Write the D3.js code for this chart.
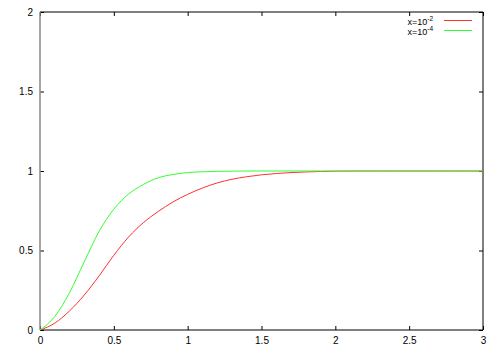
<!DOCTYPE html>
<html>
<head>
<meta charset="utf-8">
<script src="https://cdn.jsdelivr.net/npm/d3@7"></script>
<style>
  body { margin: 0; background: #fff; }
  svg { font-family: "Liberation Sans", Arial, sans-serif; }
</style>
</head>
<body>
<div id="chart"></div>
<script>
// values, step 0.1 from 0 to 3
const xValues = d3.range(0, 31).map(i => i / 10);
const seriesA = [0, 0.043, 0.12, 0.22, 0.34, 0.47, 0.585, 0.675, 0.745, 0.805, 0.853,
  0.893, 0.925, 0.948, 0.964, 0.976, 0.984, 0.99, 0.994, 0.997, 0.999,
  1, 1, 1, 1, 1, 1, 1, 1, 1, 1];
const seriesB = [0, 0.085, 0.235, 0.43, 0.62, 0.76, 0.855, 0.915, 0.957, 0.978, 0.99,
  0.995, 0.998, 0.999, 1, 1, 1, 1, 1, 1, 1,
  1, 1, 1, 1, 1, 1, 1, 1, 1, 1];
const seriesNames = [["x=10", "-2"], ["x=10", "-4"]];
const seriesColors = ["#ff3030", "#30ff30"];
const xTicks = [0, 0.5, 1, 1.5, 2, 2.5, 3];
const yTicks = [0, 0.5, 1, 1.5, 2];

const W = 500, H = 350;
const plotLeft = 40, plotRight = 483, plotTop = 12, plotBottom = 330;

const svg = d3.select("#chart")
  .append("svg")
    .attr("width", W)
    .attr("height", H);

const xScale = d3.scaleLinear().domain([0, 3]).range([plotLeft, plotRight]);
const yScale = d3.scaleLinear().domain([0, 2]).range([plotBottom, plotTop]);

// axes with inward ticks
const xAxis = svg.append("g")
  .attr("transform", `translate(0, ${plotBottom})`)
  .call(d3.axisBottom(xScale).tickValues(xTicks).tickSize(-4).tickPadding(7)
    .tickFormat(d3.format("")));
const yAxis = svg.append("g")
  .attr("transform", `translate(${plotLeft}, 0)`)
  .call(d3.axisLeft(yScale).tickValues(yTicks).tickSize(-4).tickPadding(7)
    .tickFormat(d3.format("")));
// mirrored ticks on top and right
const xTop = svg.append("g")
  .attr("transform", `translate(0, ${plotTop})`)
  .call(d3.axisTop(xScale).tickValues(xTicks).tickSize(-4).tickFormat(""));
const yRight = svg.append("g")
  .attr("transform", `translate(${plotRight}, 0)`)
  .call(d3.axisRight(yScale).tickValues(yTicks).tickSize(-4).tickFormat(""));

[xAxis, yAxis, xTop, yRight].forEach(g => {
  g.select(".domain").remove();
  g.selectAll("line").attr("stroke", "#000");
  g.selectAll("text").attr("font-size", 10).attr("fill", "#000")
    .attr("font-family", "Liberation Sans, Arial, sans-serif");
});

// border
svg.append("path")
  .attr("d", `M${plotLeft},${plotBottom}H${plotRight}V${plotTop}H${plotLeft}`)
  .attr("fill", "none")
  .attr("stroke", "#000")
  .attr("stroke-width", 1);
svg.append("line")
  .attr("x1", plotLeft).attr("x2", plotLeft)
  .attr("y1", plotTop).attr("y2", plotBottom)
  .attr("stroke", "#888")
  .attr("stroke-width", 1.5);

const line = d3.line()
  .x(d => xScale(d[0]))
  .y(d => yScale(d[1]))
  .curve(d3.curveMonotoneX);

[seriesA, seriesB].forEach((vals, i) => {
  svg.append("path")
    .datum(xValues.map((x, j) => [x, vals[j]]))
    .attr("d", line)
    .attr("fill", "none")
    .attr("stroke", seriesColors[i])
    .attr("stroke-width", 1);
});

// legend
seriesNames.forEach((nm, i) => {
  const y = 25 + i * 10;
  const t = svg.append("text")
    .attr("x", 433)
    .attr("y", y)
    .attr("text-anchor", "end")
    .attr("font-size", 9);
  t.append("tspan").text(nm[0]);
  t.append("tspan").attr("dy", -4).attr("font-size", 6.5).text(nm[1]);
  svg.append("line")
    .attr("x1", 444).attr("x2", 472)
    .attr("y1", y - 4.5).attr("y2", y - 4.5)
    .attr("stroke", seriesColors[i])
    .attr("stroke-width", 1);
});
</script>
</body>
</html>
